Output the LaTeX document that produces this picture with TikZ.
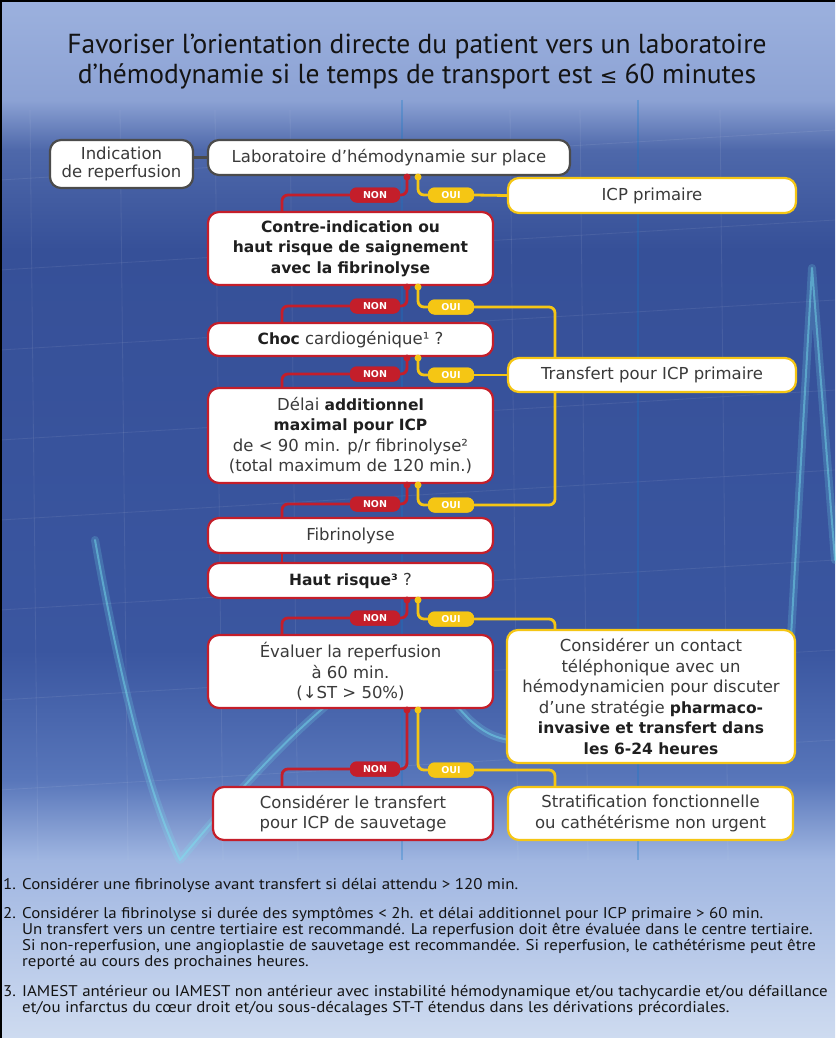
\documentclass[tikz,border=0pt]{standalone}
\usepackage{fontspec}
\setmainfont{DejaVu Sans}
\newfontfamily\ptsans{PT Sans}
\newfontfamily\ptwide[FakeStretch=1.09]{PT Sans}
\newfontfamily\djv{DejaVu Sans}
\usetikzlibrary{calc}
\definecolor{txt}{RGB}{58,58,58}
\definecolor{rd}{RGB}{196,30,42}
\definecolor{yl}{RGB}{245,198,20}
\definecolor{gr}{RGB}{75,75,75}
\definecolor{cA}{RGB}{156,177,222}
\definecolor{cB}{RGB}{140,162,212}
\definecolor{cC}{RGB}{78,104,170}
\definecolor{cD}{RGB}{54,80,152}
\definecolor{cE}{RGB}{58,86,160}
\definecolor{cF}{RGB}{88,118,186}
\definecolor{cG}{RGB}{160,182,225}
\definecolor{cH}{RGB}{206,219,240}
\definecolor{ecg}{RGB}{120,230,240}
\pgfdeclareverticalshading{bgshade}{100bp}{color(0bp)=(cH); color(25bp)=(cH); color(33.57bp)=(cG); color(37.43bp)=(cF); color(43.69bp)=(cE); color(62.96bp)=(cD); color(67.77bp)=(cC); color(70.18bp)=(cB); color(75bp)=(cA); color(100bp)=(cA)}
\newcommand\bd[1]{{\fontsize{15.5}{20.5}\selectfont\bfseries\color{black!88}#1}}
\tikzset{
  basebox/.style={draw, fill=white, rounded corners=11pt, line width=2.2pt, text=txt, align=center, inner sep=2pt, font=\fontsize{16.5}{20.5}\selectfont},
  rbox/.style={basebox, draw=rd},
  ybox/.style={basebox, draw=yl},
  gbox/.style={basebox, draw=gr},
  rline/.style={draw=rd, line width=2.8pt, rounded corners=6pt},
  yline/.style={draw=yl, line width=2.8pt, rounded corners=6pt},
  gline/.style={draw=gr, line width=3pt},
  pillr/.style={fill=rd, rounded corners=6.5pt, minimum width=50pt, minimum height=15pt, inner sep=0pt, text=white, font=\djv\bfseries\fontsize{9.5}{9.5}\selectfont},
  pilly/.style={fill=yl, rounded corners=6.5pt, minimum width=46pt, minimum height=15pt, inner sep=0pt, text=white, font=\djv\bfseries\fontsize{9.5}{9.5}\selectfont},
  rdot/.style={circle, fill=rd, inner sep=0pt, minimum size=7pt},
  ydot/.style={circle, fill=yl, inner sep=0pt, minimum size=7pt},
  fn/.style={anchor=base west, inner sep=0pt, text=black!92, font=\ptwide\fontsize{15.5}{16}\selectfont},
  ecgglow/.style={draw=ecg, line width=8pt, opacity=0.2, line cap=round, line join=round},
  ecgline/.style={draw=ecg, line width=2pt, opacity=0.45, line cap=round, line join=round},
  gridl/.style={draw=white, line width=0.8pt, opacity=0.08},
}
\begin{document}
\begin{tikzpicture}[x=1pt,y=-1pt]
\useasboundingbox (0,0) rectangle (835,1038);
\fill[shading=bgshade] (0,0) rectangle (835,1038);
% grid
\foreach \gx in {30,120,215,290,510,580,720} {\draw[gridl] (\gx,110) -- (\gx+8,860);}
\foreach \gy in {160,250,330,420,500,590,680,770} {\draw[gridl] (0,\gy+20) -- (835,\gy-30);}
\draw[draw=cyan!60!blue, line width=1.2pt, opacity=0.3] (402,100) -- (402,860);
\draw[draw=cyan!60!blue, line width=1.2pt, opacity=0.3] (638,100) -- (638,860);
% ecg
\draw[ecgglow] (95,540) .. controls (120,680) and (150,800) .. (180,860) .. controls (230,800) and (300,720) .. (360,680) .. controls (410,640) and (440,690) .. (470,720) .. controls (490,738) and (505,742) .. (540,742) -- (785,742) -- (812,268) -- (835,560);
\draw[ecgline] (95,540) .. controls (120,680) and (150,800) .. (180,860) .. controls (230,800) and (300,720) .. (360,680) .. controls (410,640) and (440,690) .. (470,720) .. controls (490,738) and (505,742) .. (540,742) -- (785,742) -- (812,268) -- (835,560);
% frame
\draw[black, line width=4pt] (0,1038) -- (0,0) -- (835,0);

% title
\node[font=\ptsans\fontsize{27.5}{30}\selectfont, align=center, text=black!92] (title) at (417,62) {Favoriser l’orientation directe du patient vers un laboratoire\\d’hémodynamie si le temps de transport est {\djv\fontsize{21}{21}\selectfont ≤} 60 minutes};

% boxes
\node[gbox, minimum width=143pt, minimum height=48pt] (ind) at (121.5,164) {Indication\\[-2pt]de reperfusion};
\node[gbox, minimum width=362pt, minimum height=35pt] (lab) at (389,157.5) {Laboratoire d’hémodynamie sur place};
\node[ybox, minimum width=288pt, minimum height=35pt] (icp) at (652,195.5) {ICP primaire};
\node[rbox, minimum width=285pt, minimum height=73pt] (ci) at (350.5,248.5) {\bd{Contre-indication ou}\\\bd{haut risque de saignement}\\\bd{avec la fibrinolyse}};
\node[rbox, minimum width=285pt, minimum height=33pt] (choc) at (350.5,339.5) {\bd{Choc} cardiogénique¹ ?};
\node[ybox, minimum width=288pt, minimum height=34pt] (tr) at (652,375) {Transfert pour ICP primaire};
\node[rbox, minimum width=285pt, minimum height=95pt] (del) at (350.5,435.5) {Délai \bd{additionnel}\\\bd{maximal pour ICP}\\de < 90 min. p/r fibrinolyse²\\(total maximum de 120 min.)};
\node[rbox, minimum width=285pt, minimum height=35pt] (fib) at (350.5,535.5) {Fibrinolyse};
\node[rbox, minimum width=285pt, minimum height=35pt] (haut) at (350.5,580.5) {\bd{Haut risque³} ?};
\node[rbox, minimum width=285pt, minimum height=73pt] (eval) at (350.5,671.5) {Évaluer la reperfusion\\à 60 min.\\(↓ST > 50\%)};
\node[ybox, minimum width=288pt, minimum height=133pt] (cons) at (651,696.5) {Considérer un contact\\téléphonique avec un\\hémodynamicien pour discuter\\d’une stratégie \bd{pharmaco-}\\\bd{invasive et transfert dans}\\\bd{les 6-24 heures}};
\node[rbox, minimum width=280pt, minimum height=53pt] (sauv) at (353,813.5) {Considérer le transfert\\pour ICP de sauvetage};
\node[ybox, minimum width=285pt, minimum height=53pt] (strat) at (650.5,813.5) {Stratification fonctionnelle\\ou cathétérisme non urgent};

% helper coordinates
\coordinate (inX) at (282,0);
\coordinate (yX) at (555,0);

% gray link
\draw[gline] (ind.east |- lab.west) -- (lab.west);

% pills
\node[pillr] (n1) at (375,195) {NON};
\node[pilly] (o1) at (451,195) {OUI};
\node[pillr] (n2) at (375,306) {NON};
\node[pilly] (o2) at (451,307) {OUI};
\node[pillr] (n3) at (375,374) {NON};
\node[pilly] (o3) at (451,375) {OUI};
\node[pillr] (n4) at (375,504) {NON};
\node[pilly] (o4) at (451,505) {OUI};
\node[pillr] (n5) at (375,618) {NON};
\node[pilly] (o5) at (451,619) {OUI};
\node[pillr] (n6) at (375,769) {NON};
\node[pilly] (o6) at (451,770) {OUI};

% dots
\node[rdot] (r1) at (407,177) {};
\node[ydot] (y1) at (418,177) {};
\node[rdot] (r2) at (407,287) {};
\node[ydot] (y2) at (418,287) {};
\node[rdot] (r3) at (407,358) {};
\node[ydot] (y3) at (418,358) {};
\node[rdot] (r4) at (407,485) {};
\node[ydot] (y4) at (418,485) {};
\node[rdot] (r5) at (407,600) {};
\node[ydot] (y5) at (418,600) {};
\node[rdot] (r6) at (407,710) {};
\node[ydot] (y6) at (418,710) {};

% connectors set 1
\draw[rline] (r1.center) |- (n1.east);
\draw[rline] (n1.west) -| (inX |- ci.north);
\draw[yline] (y1.center) |- (o1.west);
\draw[yline] (o1.east) -- (icp.west);
% set 2
\draw[rline] (r2.center) |- (n2.east);
\draw[rline] (n2.west) -| (inX |- choc.north);
\draw[yline] (y2.center) |- (o2.west);
\draw[yline] (o2.east) -| (yX |- tr.north);
% set 3
\draw[rline] (r3.center) |- (n3.east);
\draw[rline] (n3.west) -| (inX |- del.north);
\draw[yline] (y3.center) |- (o3.west);
\draw[yline] (o3.east) -- (tr.west);
% set 4
\draw[rline] (r4.center) |- (n4.east);
\draw[rline] (n4.west) -| (inX |- fib.north);
\draw[yline] (y4.center) |- (o4.west);
\draw[yline] (o4.east) -| (yX |- tr.south);
% fib -> haut
\draw[rline] (inX |- fib.south) -- (inX |- haut.north);
% set 5
\draw[rline] (r5.center) |- (n5.east);
\draw[rline] (n5.west) -| (inX |- eval.north);
\draw[yline] (y5.center) |- (o5.west);
\draw[yline] (o5.east) -| (yX |- cons.north);
% set 6
\draw[rline] (r6.center) |- (n6.east);
\draw[rline] (n6.west) -| (inX |- sauv.north);
\draw[yline] (y6.center) |- (o6.west);
\draw[yline] (o6.east) -| (yX |- strat.north);
% redraw pills on top
\foreach \p in {n1,n2,n3,n4,n5,n6} {\node[pillr] at (\p) {NON};}
\foreach \p in {o1,o2,o3,o4,o5,o6} {\node[pilly] at (\p) {OUI};}

% footnotes
\node[fn] (f1) at (3,889) {\makebox[19pt][l]{1.}Considérer une fibrinolyse avant transfert si délai attendu > 120 min.};
\node[fn] (f2a) at (3,918) {\makebox[19pt][l]{2.}Considérer la fibrinolyse si durée des symptômes < 2h. et délai additionnel pour ICP primaire > 60 min.};
\node[fn] (f2b) at (22,934) {Un transfert vers un centre tertiaire est recommandé. La reperfusion doit être évaluée dans le centre tertiaire.};
\node[fn] (f2c) at (22,950) {Si non-reperfusion, une angioplastie de sauvetage est recommandée. Si reperfusion, le cathétérisme peut être};
\node[fn] (f2d) at (22,966) {reporté au cours des prochaines heures.};
\node[fn] (f3a) at (3,996) {\makebox[19pt][l]{3.}IAMEST antérieur ou IAMEST non antérieur avec instabilité hémodynamique et/ou tachycardie et/ou défaillance};
\node[fn] (f3b) at (22,1012) {et/ou infarctus du cœur droit et/ou sous-décalages ST-T étendus dans les dérivations précordiales.};
\end{tikzpicture}
\end{document}
